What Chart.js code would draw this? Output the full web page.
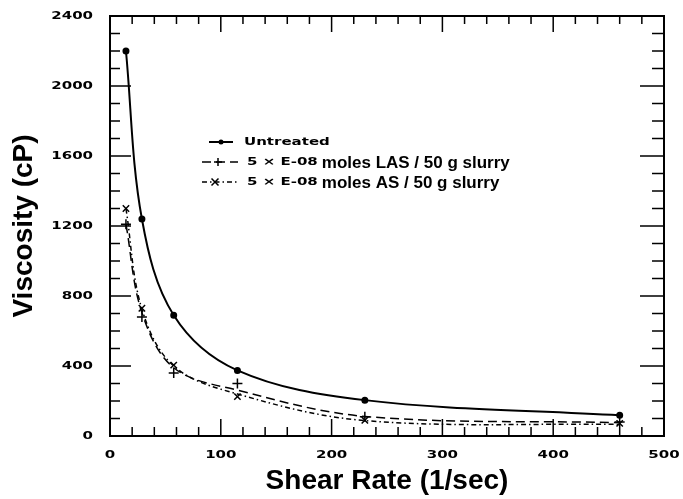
<!DOCTYPE html>
<html>
<head>
<meta charset="utf-8">
<script src="https://cdn.jsdelivr.net/npm/chart.js@4/dist/chart.umd.min.js"></script>
<style>
  body { margin: 0; background: #fff; }
</style>
</head>
<body>
<canvas id="chart-canvas" width="683" height="499"></canvas>
<script>
// viscosity vs shear rate data
let shearRate = [14.4, 28.8, 57.5, 115, 230, 460];
let untreated = [2200, 1240, 690, 375, 205, 118];
let lasSlurry = [1210, 680, 360, 300, 110, 80];
let asSlurry = [1300, 730, 405, 225, 90, 72];
// the dashed curves are fitted, they do not go through every marker
let lasCurve = [1210, 705, 390, 262, 112, 76];
let asCurve = [1300, 725, 400, 240, 88, 66];

let xTicks = [0, 100, 200, 300, 400, 500];
let yTicks = [0, 400, 800, 1200, 1600, 2000, 2400];

let legendSample = ["Untreated", "5 \u00d7 E-08", "5 \u00d7 E-08"];
let legendText = ["", "moles LAS / 50 g slurry", "moles AS / 50 g slurry"];

function toPoints(values) {
  return shearRate.map(function (x, i) {
    return { x: x, y: values[i] };
  });
}

// the old plotter font is wide and blocky, stretch DejaVu to look like it
function wideText(ctx, str, x, y, align) {
  ctx.save();
  ctx.translate(x, y);
  ctx.scale(1.5, 1);
  ctx.font = 'bold 10px "DejaVu Sans"';
  ctx.textAlign = align;
  ctx.textBaseline = "middle";
  ctx.fillText(str, 0, 0);
  let w = ctx.measureText(str).width * 1.5;
  ctx.restore();
  return w;
}

let framePlugin = {
  id: "frame",
  afterDraw: function (chart) {
    let ctx = chart.ctx;
    let a = chart.chartArea;
    let xs = chart.scales.x;
    let ys = chart.scales.y;
    ctx.save();
    ctx.strokeStyle = "#000";
    ctx.fillStyle = "#000";
    ctx.lineWidth = 2;
    ctx.strokeRect(a.left, a.top, a.right - a.left, a.bottom - a.top);

    // inward ticks on all four sides
    ctx.lineWidth = 1.5;
    ctx.beginPath();
    for (let v = 0; v <= 500; v += 20) {
      let px = xs.getPixelForValue(v);
      let major = v % 100 === 0;
      ctx.moveTo(px, a.bottom);
      ctx.lineTo(px, a.bottom - (major ? 17 : 9));
      ctx.moveTo(px, a.top);
      ctx.lineTo(px, a.top + (major ? 16 : 8));
    }
    for (let v = 0; v <= 2400; v += 100) {
      let py = ys.getPixelForValue(v);
      let major = v % 400 === 0;
      ctx.moveTo(a.left, py);
      ctx.lineTo(a.left + (major ? 21 : 10), py);
      ctx.moveTo(a.right, py);
      ctx.lineTo(a.right - (major ? 24 : 12), py);
    }
    ctx.stroke();

    // tick labels
    xTicks.forEach(function (v) {
      wideText(ctx, String(v), xs.getPixelForValue(v), a.bottom + 19, "center");
    });
    yTicks.forEach(function (v) {
      wideText(ctx, String(v), a.left - 17, ys.getPixelForValue(v), "right");
    });

    // legend inside the plot
    let sets = chart.data.datasets;
    for (let i = 0; i < 3; i++) {
      let ds = sets[i];
      let y = a.top + 126 + i * 20;
      let x0 = i === 0 ? 209 : 202;
      let x1 = i === 0 ? 233 : 238;
      let mx = i === 0 ? 221 : (i === 1 ? 218 : 215);
      ctx.lineWidth = ds.borderWidth;
      ctx.setLineDash(ds.borderDash || []);
      ctx.beginPath();
      ctx.moveTo(x0, y);
      ctx.lineTo(x1, y);
      ctx.stroke();
      ctx.setLineDash([]);
      ctx.lineWidth = 1.5;
      ctx.beginPath();
      if (i === 0) {
        ctx.arc(mx, y, 2.5, 0, Math.PI * 2);
        ctx.fill();
      } else if (i === 1) {
        ctx.moveTo(mx - 4, y); ctx.lineTo(mx + 4, y);
        ctx.moveTo(mx, y - 4); ctx.lineTo(mx, y + 4);
        ctx.stroke();
      } else {
        ctx.moveTo(mx - 3.5, y - 3.5); ctx.lineTo(mx + 3.5, y + 3.5);
        ctx.moveTo(mx - 3.5, y + 3.5); ctx.lineTo(mx + 3.5, y - 3.5);
        ctx.stroke();
      }
      let tx = i === 0 ? 244 : 247;
      let w = wideText(ctx, legendSample[i], tx, y, "left");
      if (legendText[i]) {
        ctx.font = 'bold 17px "Liberation Sans"';
        ctx.textAlign = "left";
        ctx.textBaseline = "middle";
        ctx.fillText(legendText[i], tx + w + 4, y + 1);
      }
    }
    ctx.restore();
  },
};

let chart = document.getElementById("chart-canvas").getContext("2d");

let chart1 = new Chart(chart, {
  type: "line",
  data: {
    datasets: [
      {
        label: "Untreated",
        data: toPoints(untreated),
        borderColor: "#000",
        backgroundColor: "#000",
        borderWidth: 2,
        pointStyle: "circle",
        pointRadius: 2.5,
        tension: 0.35,
      },
      {
        label: "5 x E-08 moles LAS / 50 g slurry",
        data: toPoints(lasCurve),
        borderColor: "#000",
        borderWidth: 1.5,
        borderDash: [9, 5],
        pointRadius: 0,
        tension: 0.35,
      },
      {
        label: "5 x E-08 moles AS / 50 g slurry",
        data: toPoints(asCurve),
        borderColor: "#000",
        borderWidth: 1.5,
        borderDash: [5, 3, 1.5, 3],
        pointRadius: 0,
        tension: 0.35,
      },
      {
        label: "LAS points",
        data: toPoints(lasSlurry),
        showLine: false,
        borderColor: "#000",
        pointStyle: "cross",
        pointRadius: 5,
        pointBorderWidth: 1.5,
      },
      {
        label: "AS points",
        data: toPoints(asSlurry),
        showLine: false,
        borderColor: "#000",
        pointStyle: "crossRot",
        pointRadius: 4.5,
        pointBorderWidth: 1.5,
      },
    ],
  },
  options: {
    responsive: false,
    animation: false,
    layout: { padding: { top: 16, right: 19, left: 0, bottom: 0 } },
    plugins: {
      legend: { display: false },
      tooltip: { enabled: false },
    },
    scales: {
      x: {
        type: "linear",
        min: 0,
        max: 500,
        ticks: { display: false, stepSize: 100 },
        grid: { display: false, drawTicks: false },
        border: { display: false },
        title: {
          display: true,
          text: "Shear Rate (1/sec)",
          color: "#000",
          font: { family: "Liberation Sans", weight: "bold", size: 28 },
          padding: { top: 0, bottom: 1 },
        },
        afterFit: function (scale) {
          scale.height = 63;
        },
      },
      y: {
        min: 0,
        max: 2400,
        ticks: { display: false, stepSize: 400 },
        grid: { display: false, drawTicks: false },
        border: { display: false },
        title: {
          display: true,
          text: "Viscosity (cP)",
          color: "#000",
          font: { family: "Liberation Sans", weight: "bold", size: 28 },
          padding: { top: 7, bottom: 0 },
        },
        afterFit: function (scale) {
          scale.width = 110;
        },
      },
    },
  },
  plugins: [framePlugin],
});
</script>
</body>
</html>
